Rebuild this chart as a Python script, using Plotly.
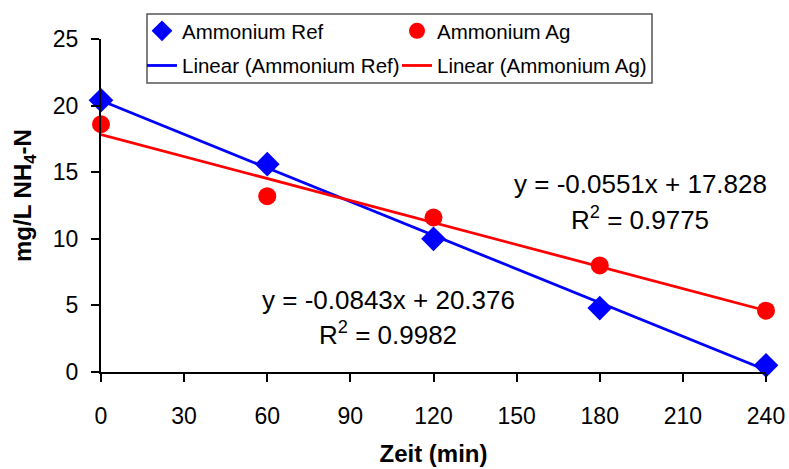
import plotly.graph_objects as go

time_min = [0, 60, 120, 180, 240]
ammonium_ref = [20.4, 15.6, 10.0, 4.8, 0.5]
ammonium_ag = [18.6, 13.2, 11.6, 8.0, 4.6]

# trendline coefficients as printed in the chart
ref_slope, ref_intercept, ref_r2 = -0.0843, 20.376, 0.9982
ag_slope, ag_intercept, ag_r2 = -0.0551, 17.828, 0.9775
trend_x = [0, 240]

FONT = "Liberation Sans, Arial, sans-serif"
BLUE = "#0000FF"
RED = "#FF0000"

W, H = 789, 469
L, R, T, B = 101, 23, 39, 97
PW, PH = W - L - R, H - T - B


def px_x(px):
    return (px - L) / PW


def px_y(py):
    return 1 - (py - T) / PH


fig = go.Figure()
fig.add_trace(go.Scatter(x=time_min, y=ammonium_ref, mode="markers", name="Ammonium Ref",
                         legend="legend", legendgroup="a",
                         marker=dict(symbol="diamond", size=19, color=BLUE), cliponaxis=False))
fig.add_trace(go.Scatter(x=trend_x, y=[ref_intercept + ref_slope * x for x in trend_x], mode="lines",
                         name="Linear (Ammonium Ref)", legend="legend", legendgroup="b",
                         line=dict(color=BLUE, width=2.8)))
fig.add_trace(go.Scatter(x=time_min, y=ammonium_ag, mode="markers", name="Ammonium Ag",
                         legend="legend2", legendgroup="c",
                         marker=dict(symbol="circle", size=18, color=RED), cliponaxis=False))
fig.add_trace(go.Scatter(x=trend_x, y=[ag_intercept + ag_slope * x for x in trend_x], mode="lines",
                         name="Linear (Ammonium Ag)", legend="legend2", legendgroup="d",
                         line=dict(color=RED, width=2.8)))

ann_font = dict(family=FONT, size=26, color="black")
annotations = [
    (640, 184, f"y = {ag_slope}x + {ag_intercept}"),
    (640, 218, f"R<sup>2</sup> = {ag_r2}"),
    (388, 300, f"y = {ref_slope}x + {ref_intercept}"),
    (388, 333, f"R<sup>2</sup> = {ref_r2}"),
]
for px, py, txt in annotations:
    fig.add_annotation(x=px_x(px), y=px_y(py), xref="paper", yref="paper",
                       text=txt, showarrow=False, font=ann_font, xanchor="center", yanchor="middle")

# y-axis title
fig.add_annotation(x=px_x(25), y=px_y(196), xref="paper", yref="paper", textangle=-90,
                   text="<b>mg/L NH<sub>4</sub>-N</b>", showarrow=False,
                   font=dict(family=FONT, size=24, color="black"), xanchor="center", yanchor="middle")

# legend frame
fig.add_shape(type="rect", xref="paper", yref="paper", x0=px_x(147), x1=px_x(652), y0=px_y(83), y1=px_y(14),
              line=dict(color="#555555", width=1.5), fillcolor="white", layer="below")

leg_common = dict(orientation="v", xref="container", yref="container", xanchor="left", yanchor="top",
                  borderwidth=0, bgcolor="rgba(0,0,0,0)", font=dict(family=FONT, size=20.5),
                  tracegroupgap=5, itemwidth=30, traceorder="grouped")

fig.update_layout(
    width=W, height=H,
    margin=dict(l=L, r=R, t=T, b=B, autoexpand=False),
    paper_bgcolor="white", plot_bgcolor="white",
    font=dict(family=FONT, size=23, color="black"),
    showlegend=True,
    legend=dict(x=142 / W, y=1 - 11 / H, **leg_common),
    legend2=dict(x=397 / W, y=1 - 11 / H, **leg_common),
    xaxis=dict(range=[0, 240], tickvals=[0, 30, 60, 90, 120, 150, 180, 210, 240],
               showline=True, linecolor="black", linewidth=2, ticks="outside", ticklen=8,
               tickwidth=2, tickcolor="black", showgrid=False, zeroline=False, automargin=False,
               ticklabelstandoff=14, tickfont=dict(size=23),
               title=dict(text="<b>Zeit (min)</b>", font=dict(family=FONT, size=24), standoff=18)),
    yaxis=dict(range=[0, 25], tickvals=[0, 5, 10, 15, 20, 25],
               showline=True, linecolor="black", linewidth=2, ticks="outside", ticklen=8,
               tickwidth=2, tickcolor="black", showgrid=False, zeroline=False, automargin=False,
               ticklabelstandoff=8, tickfont=dict(size=23)),
)

fig.write_html("out.html", config={"displayModeBar": False},
               post_script="document.body.style.margin='0';document.body.style.overflow='hidden';")
